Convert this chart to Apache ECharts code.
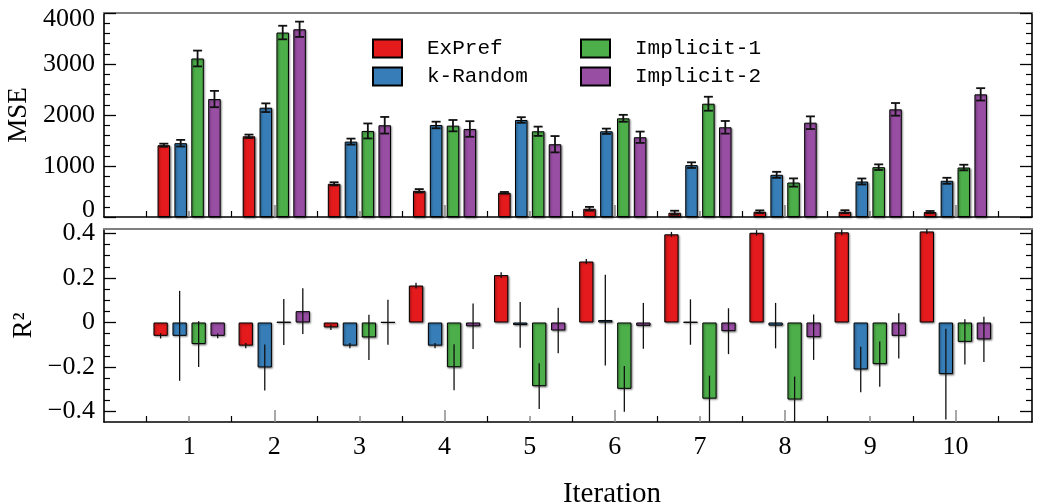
<!DOCTYPE html>
<html>
<head>
<meta charset="utf-8">
<script src="https://cdn.jsdelivr.net/npm/echarts@6/dist/echarts.min.js"></script>
<style>
html,body{margin:0;padding:0;background:#fff;}
#chart{width:1037px;height:504px;}
</style>
</head>
<body>
<div id="chart"></div>
<script>
// ---- data ----
const iterations = [1, 2, 3, 4, 5, 6, 7, 8, 9, 10];
const seriesNames = ['ExPref', 'k-Random', 'Implicit-1', 'Implicit-2'];

const mseExPref      = [1408, 1583, 651, 514, 475, 162, 84, 104, 104, 98];
const mseExPrefErr   = [30, 33, 30, 33, 16, 36, 39, 26, 29, 20];
const mseKRandom     = [1447, 2143, 1478, 1804, 1902, 1681, 1017, 827, 696, 710];
const mseKRandomErr  = [65, 85, 59, 65, 55, 52, 55, 59, 59, 59];
const mseImplicit1   = [3108, 3617, 1687, 1791, 1681, 1935, 2221, 676, 977, 970];
const mseImplicit1Err= [155, 133, 147, 111, 91, 68, 137, 81, 55, 55];
const mseImplicit2   = [2313, 3681, 1799, 1726, 1427, 1564, 1759, 1849, 2111, 2405];
const mseImplicit2Err= [160, 150, 163, 153, 160, 111, 124, 124, 124, 121];

const r2ExPref       = [-0.060, -0.104, -0.022, 0.166, 0.213, 0.274, 0.396, 0.403, 0.405, 0.409];
const r2ExPrefErr    = [0.012, 0.012, 0.012, 0.013, 0.013, 0.011, 0.011, 0.012, 0.013, 0.011];
const r2KRandom      = [-0.060, -0.202, -0.104, -0.104, -0.011, 0.011, 0.002, -0.014, -0.211, -0.232];
const r2KRandomErr   = [0.202, 0.103, 0.012, 0.012, 0.103, 0.204, 0.102, 0.102, 0.102, 0.204];
const r2Implicit1    = [-0.097, 0.002, -0.067, -0.201, -0.286, -0.298, -0.342, -0.346, -0.187, -0.087];
const r2Implicit1Err = [0.103, 0.103, 0.102, 0.103, 0.103, 0.103, 0.103, 0.103, 0.102, 0.102];
const r2Implicit2    = [-0.060, 0.051, 0.001, -0.017, -0.036, -0.015, -0.039, -0.066, -0.060, -0.076];
const r2Implicit2Err = [0.011, 0.103, 0.101, 0.102, 0.102, 0.103, 0.103, 0.102, 0.102, 0.102];

const mseTicks = [0, 1000, 2000, 3000, 4000];
const r2Ticks = [-0.4, -0.2, 0, 0.2, 0.4];
const r2MinorTicks = [-0.45, -0.35, -0.3, -0.25, -0.15, -0.1, -0.05, 0.05, 0.1, 0.15, 0.25, 0.3, 0.35];
const boundaryTicks = [0.5, 1.5, 2.5, 3.5, 4.5, 5.5, 6.5, 7.5, 8.5, 9.5, 10.5];
const evenTicks = [2, 4, 6, 8, 10];
const oddTicks = [1, 3, 5, 7, 9];

// ---- style ----
const colors = ['#E41A1C', '#377EB8', '#4DAF4A', '#984EA3'];
const SERIF = '"Liberation Serif", "DejaVu Serif", serif';
const MONO = '"Liberation Mono", "DejaVu Sans Mono", monospace';
const X_MIN = 0, X_MAX = 10.9;
const MSE_MIN = 0, MSE_MAX = 4000;
const R2_MIN = -0.447, R2_MAX = 0.42;
const BW_TOP = 12.5, GAP_TOP = 0.35;
const BW_BOT = 14.3, GAP_BOT = 0.33;
const TICK_FONT = 26;

const mseVals = [mseExPref, mseKRandom, mseImplicit1, mseImplicit2];
const mseErrs = [mseExPrefErr, mseKRandomErr, mseImplicit1Err, mseImplicit2Err];
const r2Vals = [r2ExPref, r2KRandom, r2Implicit1, r2Implicit2];
const r2Errs = [r2ExPrefErr, r2KRandomErr, r2Implicit1Err, r2Implicit2Err];

const barItemStyle = (c) => ({
  color: c, borderColor: '#000', borderWidth: 1,
  shadowColor: 'rgba(0,0,0,0.45)', shadowBlur: 2, shadowOffsetX: 1, shadowOffsetY: 1
});

function xAxisSet(grid, withLabels) {
  const common = {
    gridIndex: grid, type: 'value', min: X_MIN, max: X_MAX,
    splitLine: { show: false }, minorTick: { show: false }
  };
  return [
    Object.assign({}, common, {
      position: 'bottom',
      axisLine: { show: true, onZero: false, lineStyle: { color: '#000', width: 1.6 } },
      axisTick: { show: true, inside: true, length: 6, customValues: boundaryTicks, lineStyle: { color: '#000', width: 1.2 } },
      axisLabel: withLabels ? { show: true, customValues: iterations, fontFamily: SERIF, fontSize: TICK_FONT, color: '#000', margin: 12 } : { show: false },
      name: withLabels ? 'Iteration' : '',
      nameLocation: 'middle', nameGap: 58,
      nameTextStyle: { fontFamily: SERIF, fontSize: 29, color: '#000', padding: [0, 0, 0, 88] }
    }),
    Object.assign({}, common, {
      position: 'bottom', axisLine: { show: false, onZero: false },
      axisTick: { show: true, inside: true, length: 12, customValues: evenTicks, lineStyle: { color: '#8c8c8c', width: 1.5 } },
      axisLabel: { show: false }
    }),
    Object.assign({}, common, {
      position: 'bottom', axisLine: { show: false, onZero: false },
      axisTick: { show: true, inside: true, length: 6, customValues: oddTicks, lineStyle: { color: '#8c8c8c', width: 1.5 } },
      axisLabel: { show: false }
    }),
    Object.assign({}, common, {
      position: 'top',
      axisLine: { show: true, onZero: false, lineStyle: { color: '#808080', width: 2 } },
      axisTick: { show: false }, axisLabel: { show: false }
    })
  ];
}

const yAxes = [
  {
    gridIndex: 0, type: 'value', min: MSE_MIN, max: MSE_MAX, interval: 1000, position: 'left',
    axisLine: { show: true, onZero: false, lineStyle: { color: '#000', width: 1.6 } },
    axisTick: { show: true, inside: true, length: 12, lineStyle: { color: '#000', width: 1.3 } },
    minorTick: { show: true, splitNumber: 5, length: 6, lineStyle: { color: '#000', width: 1.2 } },
    splitLine: { show: false }, minorSplitLine: { show: false },
    axisLabel: {
      fontFamily: SERIF, fontSize: TICK_FONT, color: '#000', margin: 9,
      formatter: (v) => v === MSE_MAX ? '{t|' + v + '}' : (v === MSE_MIN ? '{b|' + v + '}' : '{n|' + v + '}'),
      rich: {
        t: { fontFamily: SERIF, fontSize: TICK_FONT, color: '#000', padding: [12, 0, 0, 0] },
        b: { fontFamily: SERIF, fontSize: TICK_FONT, color: '#000', padding: [0, 0, 14, 0] },
        n: { fontFamily: SERIF, fontSize: TICK_FONT, color: '#000' }
      }
    },
    name: 'MSE', nameLocation: 'middle', nameGap: 66,
    nameTextStyle: { fontFamily: SERIF, fontSize: 27, color: '#000' }
  },
  {
    gridIndex: 0, type: 'value', min: MSE_MIN, max: MSE_MAX, interval: 1000, position: 'right',
    axisLine: { show: true, onZero: false, lineStyle: { color: '#000', width: 1.6 } },
    axisTick: { show: true, inside: true, length: 12, lineStyle: { color: '#000', width: 1.3 } },
    minorTick: { show: true, splitNumber: 5, length: 6, lineStyle: { color: '#000', width: 1.2 } },
    splitLine: { show: false }, minorSplitLine: { show: false },
    axisLabel: { show: false }
  },
  {
    gridIndex: 1, type: 'value', min: R2_MIN, max: R2_MAX, position: 'left',
    axisLine: { show: true, onZero: false, lineStyle: { color: '#000', width: 1.6 } },
    axisTick: { show: true, inside: true, length: 12, customValues: r2Ticks, lineStyle: { color: '#000', width: 1.3 } },
    splitLine: { show: false },
    axisLabel: {
      customValues: r2Ticks, fontFamily: SERIF, fontSize: TICK_FONT, color: '#000', margin: 9,
      formatter: (v) => { const r = Math.round(v * 10) / 10; return r === 0 ? '0' : String(r).replace('-', '\u2212'); }
    },
    name: 'R\u00B2', nameLocation: 'middle', nameGap: 66,
    nameTextStyle: { fontFamily: SERIF, fontSize: 27, color: '#000' }
  },
  {
    gridIndex: 1, type: 'value', min: R2_MIN, max: R2_MAX, position: 'left',
    axisLine: { show: false, onZero: false },
    axisTick: { show: true, inside: true, length: 6, customValues: r2MinorTicks, lineStyle: { color: '#000', width: 1.2 } },
    splitLine: { show: false }, axisLabel: { show: false }
  },
  {
    gridIndex: 1, type: 'value', min: R2_MIN, max: R2_MAX, position: 'right',
    axisLine: { show: true, onZero: false, lineStyle: { color: '#000', width: 1.6 } },
    axisTick: { show: true, inside: true, length: 12, customValues: r2Ticks, lineStyle: { color: '#000', width: 1.3 } },
    splitLine: { show: false }, axisLabel: { show: false }
  },
  {
    gridIndex: 1, type: 'value', min: R2_MIN, max: R2_MAX, position: 'right',
    axisLine: { show: false, onZero: false },
    axisTick: { show: true, inside: true, length: 6, customValues: r2MinorTicks, lineStyle: { color: '#000', width: 1.2 } },
    splitLine: { show: false }, axisLabel: { show: false }
  }
];

const series = [];
seriesNames.forEach((name, k) => {
  series.push({
    name: name, type: 'bar', xAxisIndex: 0, yAxisIndex: 0,
    barWidth: BW_TOP, barGap: (GAP_TOP * 100) + '%',
    itemStyle: barItemStyle(colors[k]),
    data: iterations.map((it, i) => [it, mseVals[k][i]]),
    z: 2, animation: false
  });
});
seriesNames.forEach((name, k) => {
  series.push({
    name: name, type: 'bar', xAxisIndex: 4, yAxisIndex: 2,
    barWidth: BW_BOT, barGap: (GAP_BOT * 100) + '%',
    itemStyle: barItemStyle(colors[k]),
    data: iterations.map((it, i) => [it, r2Vals[k][i]]),
    z: 2, animation: false
  });
});

function errData(vals, errs) {
  const out = [];
  vals.forEach((arr, k) => arr.forEach((v, i) => out.push([iterations[i], v, errs[k][i], k])));
  return out;
}
function makeErr(step, lo, hi, caps, lw) {
  return function (params, api) {
    const x = api.value(0), v = api.value(1), e = api.value(2), k = api.value(3);
    const p = api.coord([x, v]);
    const cx = p[0] + (k - 1.5) * step;
    const y1 = api.coord([x, Math.min(hi, v + e)])[1];
    const y2 = api.coord([x, Math.max(lo, v - e)])[1];
    const st = { stroke: '#111', lineWidth: lw };
    const children = [{ type: 'line', shape: { x1: cx, y1: y1, x2: cx, y2: y2 }, style: st }];
    if (caps) {
      children.push({ type: 'line', shape: { x1: cx - 4.5, y1: y1, x2: cx + 4.5, y2: y1 }, style: st });
      children.push({ type: 'line', shape: { x1: cx - 4.5, y1: y2, x2: cx + 4.5, y2: y2 }, style: st });
    }
    return { type: 'group', children: children };
  };
}
series.push({
  type: 'custom', xAxisIndex: 0, yAxisIndex: 0, z: 5, silent: true, animation: false,
  encode: { x: 0, y: 1 },
  renderItem: makeErr(BW_TOP * (1 + GAP_TOP), MSE_MIN, MSE_MAX, true, 1.8),
  data: errData(mseVals, mseErrs)
});
series.push({
  type: 'custom', xAxisIndex: 4, yAxisIndex: 2, z: 5, silent: true, animation: false,
  encode: { x: 0, y: 1 },
  renderItem: makeErr(BW_BOT * (1 + GAP_BOT), R2_MIN, R2_MAX, false, 1.3),
  data: errData(r2Vals, r2Errs)
});

const legendCommon = {
  orient: 'vertical', top: 38, padding: 0, itemWidth: 29, itemHeight: 18, itemGap: 7,
  icon: 'rect', selectedMode: false,
  textStyle: { fontFamily: MONO, fontSize: 21, color: '#000', lineHeight: 18, padding: [0, 0, 0, 20] }
};

const option = {
  animation: false,
  backgroundColor: '#fff',
  grid: [
    { left: 104, top: 13, width: 928, height: 204, containLabel: false, outerBoundsMode: 'none' },
    { left: 104, top: 229, width: 928, height: 193, containLabel: false, outerBoundsMode: 'none' }
  ],
  legend: [
    Object.assign({}, legendCommon, { left: 372, data: ['ExPref', 'k-Random'] }),
    Object.assign({}, legendCommon, { left: 580, data: ['Implicit-1', 'Implicit-2'] })
  ],
  xAxis: xAxisSet(0, false).concat(xAxisSet(1, true)),
  yAxis: yAxes,
  series: series
};

const chart = echarts.init(document.getElementById('chart'), null, { renderer: 'canvas' });
chart.setOption(option);
</script>
</body>
</html>
